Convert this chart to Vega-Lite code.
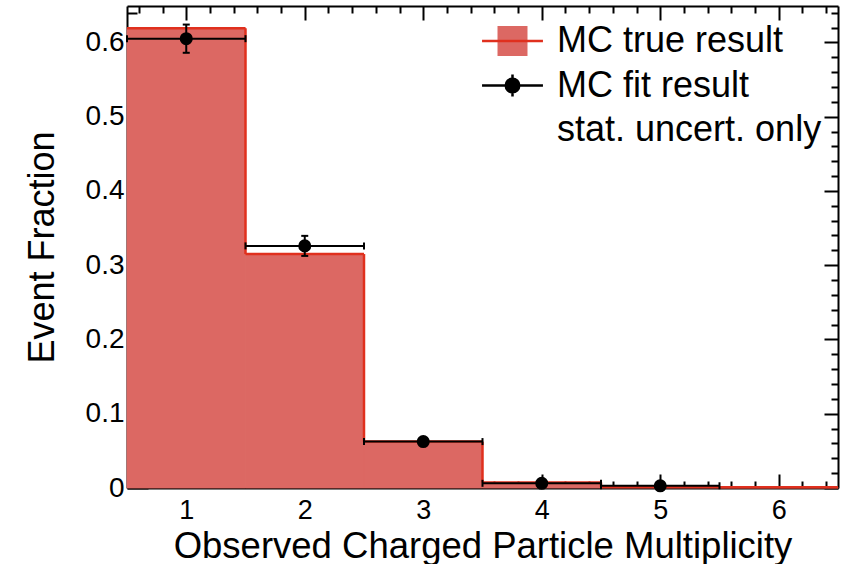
{
  "$schema": "https://vega.github.io/schema/vega-lite/v6.json",
  "width": 711,
  "height": 482,
  "autosize": {"type": "none"},
  "padding": {"left": 127, "top": 6, "right": 7, "bottom": 76},
  "background": "white",
  "config": {
    "view": {"stroke": null},
    "font": "Liberation Sans",
    "legend": {"labelFont": "Liberation Sans"},
    "axis": {"grid": false, "zindex": 1, "tickColor": "black", "tickWidth": 2, "domainColor": "black", "domainWidth": 2, "labelFlush": false, "labelOverlap": false, "labelBound": false}
  },
  "data": {
    "values": [
      {"n": 1, "lo": 0.5, "hi": 1.5, "mc": 0.619, "fit": 0.605, "fitlo": 0.586, "fithi": 0.624},
      {"n": 2, "lo": 1.5, "hi": 2.5, "mc": 0.315, "fit": 0.326, "fitlo": 0.3125, "fithi": 0.3395},
      {"n": 3, "lo": 2.5, "hi": 3.5, "mc": 0.0625, "fit": 0.0625, "fitlo": 0.0595, "fithi": 0.0655},
      {"n": 4, "lo": 3.5, "hi": 4.5, "mc": 0.0075, "fit": 0.0063, "fitlo": 0.0043, "fithi": 0.0083},
      {"n": 5, "lo": 4.5, "hi": 5.5, "mc": 0.0015, "fit": 0.003, "fitlo": 0.001, "fithi": 0.005},
      {"n": 6, "lo": 5.5, "hi": 6.5, "mc": 0.001, "fit": null, "fitlo": null, "fithi": null}
    ]
  },
  "resolve": {"axis": {"x": "independent", "y": "independent"}},
  "layer": [
    {
      "mark": {"type": "rect", "stroke": "#dc6863", "strokeWidth": 0.8},
      "encoding": {
        "x": {
          "field": "lo", "type": "quantitative",
          "scale": {"domain": [0.5, 6.5], "nice": false, "zero": false},
          "axis": {
            "orient": "bottom",
            "values": [1, 2, 3, 4, 5, 6],
            "domain": true, "ticks": true, "tickSize": -14,
            "labelExpr": "format(datum.value,'d')",
            "labelFont": "Liberation Sans", "labelFontSize": 27, "labelColor": "black", "labelPadding": 23,
            "title": "Observed Charged Particle Multiplicity",
            "titleFont": "Liberation Sans", "titleFontSize": 36.5, "titleFontWeight": "normal", "titleColor": "black", "titlePadding": 5
          }
        },
        "x2": {"field": "hi"},
        "y": {
          "field": "mc", "type": "quantitative",
          "scale": {"domain": [0, 0.649], "nice": false, "zero": false},
          "axis": {
            "orient": "left",
            "values": [0, 0.1, 0.2, 0.3, 0.4, 0.5, 0.6],
            "domain": true, "ticks": true, "tickSize": -21,
            "labelExpr": "datum.value == 0 ? '0' : format(datum.value,'.1f')",
            "labelFont": "Liberation Sans", "labelFontSize": 28, "labelColor": "black", "labelPadding": 24,
            "title": "Event Fraction",
            "titleFont": "Liberation Sans", "titleFontSize": 36, "titleFontWeight": "normal", "titleColor": "black", "titlePadding": 24
          }
        },
        "y2": {"datum": 0},
        "fill": {
          "datum": "MC true result",
          "scale": {"domain": ["MC true result", "MC fit result", "stat. uncert. only"], "range": ["#dc6863", "transparent", "transparent"]},
          "legend": {
            "orient": "none", "legendX": 367.5, "legendY": 17, "title": null, "padding": 0,
            "rowPadding": 8.5, "symbolSize": 900, "symbolStrokeWidth": 0,
            "labelFont": "Liberation Sans", "labelFontSize": 36, "labelColor": "black", "labelOffset": 26.5, "labelLimit": 500,
            "encode": {"symbols": {"update": {
              "shape": {"signal": "datum.value === 'MC true result' ? 'M-2.03,-1.05H2.03V1.05H-2.03Z' : 'M0,0'"},
              "stroke": {"value": "transparent"}
            }}}
          }
        }
      }
    },
    {
      "mark": {"type": "rule", "strokeWidth": 2.5},
      "encoding": {
        "x": {
          "field": "lo", "type": "quantitative", "scale": {"domain": [0.5, 6.5], "nice": false, "zero": false},
          "axis": {
            "orient": "bottom",
            "values": [0.6, 0.8, 1.2, 1.4, 1.6, 1.8, 2.2, 2.4, 2.6, 2.8, 3.2, 3.4, 3.6, 3.8, 4.2, 4.4, 4.6, 4.8, 5.2, 5.4, 5.6, 5.8, 6.2, 6.4],
            "domain": false, "ticks": true, "tickSize": -7, "labels": false, "title": null
          }
        },
        "x2": {"field": "hi"},
        "y": {
          "field": "mc", "type": "quantitative", "scale": {"domain": [0, 0.649], "nice": false, "zero": false},
          "axis": {
            "orient": "left",
            "values": [0.02, 0.04, 0.06, 0.08, 0.12, 0.14, 0.16, 0.18, 0.22, 0.24, 0.26, 0.28, 0.32, 0.34, 0.36, 0.38, 0.42, 0.44, 0.46, 0.48, 0.52, 0.54, 0.56, 0.58, 0.62, 0.64],
            "domain": false, "ticks": true, "tickSize": -10, "labels": false, "title": null
          }
        },
        "stroke": {
          "datum": "t",
          "scale": {"domain": ["t", "f", "s"], "range": ["#e0301e", "black", "transparent"]},
          "legend": {
            "orient": "none", "legendX": 367.5, "legendY": 17, "title": null, "padding": 0,
            "rowPadding": 8.5, "symbolSize": 900, "symbolStrokeWidth": 2.5,
            "labelFont": "Liberation Sans", "labelFontSize": 36, "labelColor": "transparent", "labelOffset": 26.5, "labelLimit": 500,
            "labelExpr": "''",
            "encode": {"symbols": {"update": {
              "shape": {"signal": "datum.value === 't' ? 'M-2.03,0H2.03' : (datum.value === 'f' ? 'M-2.03,0H2.03M0,-0.73V0.73M0.45,0A0.45,0.45 0 1,1 -0.45,0A0.45,0.45 0 1,1 0.45,0Z' : 'M0,0')"},
              "fill": {"signal": "datum.value === 'f' ? 'black' : 'transparent'"}
            }}}
          }
        }
      }
    },
    {
      "transform": [
        {"window": [{"op": "lead", "field": "mc", "as": "next"}], "sort": [{"field": "n"}]},
        {"filter": "datum.next != null"}
      ],
      "mark": {"type": "rule", "strokeWidth": 2.5},
      "encoding": {
        "x": {
          "field": "hi", "type": "quantitative", "scale": {"domain": [0.5, 6.5], "nice": false, "zero": false},
          "axis": {
            "orient": "top",
            "values": [1, 2, 3, 4, 5, 6],
            "domain": true, "ticks": true, "tickSize": -14, "labels": false, "title": null
          }
        },
        "y": {
          "field": "mc", "type": "quantitative", "scale": {"domain": [0, 0.649], "nice": false, "zero": false},
          "axis": {
            "orient": "right",
            "values": [0, 0.1, 0.2, 0.3, 0.4, 0.5, 0.6],
            "domain": true, "ticks": true, "tickSize": -14, "labels": false, "title": null
          }
        },
        "y2": {"field": "next"},
        "stroke": {"datum": "t", "scale": {"domain": ["t", "f", "s"], "range": ["#e0301e", "black", "transparent"]}}
      }
    },
    {
      "transform": [{"filter": "datum.fit != null"}],
      "mark": {"type": "rule", "strokeWidth": 2},
      "encoding": {
        "x": {
          "field": "lo", "type": "quantitative", "scale": {"domain": [0.5, 6.5], "nice": false, "zero": false},
          "axis": {
            "orient": "top",
            "values": [0.6, 0.8, 1.2, 1.4, 1.6, 1.8, 2.2, 2.4, 2.6, 2.8, 3.2, 3.4, 3.6, 3.8, 4.2, 4.4, 4.6, 4.8, 5.2, 5.4, 5.6, 5.8, 6.2, 6.4],
            "domain": false, "ticks": true, "tickSize": -7, "labels": false, "title": null
          }
        },
        "x2": {"field": "hi"},
        "y": {
          "field": "fit", "type": "quantitative", "scale": {"domain": [0, 0.649], "nice": false, "zero": false},
          "axis": {
            "orient": "right",
            "values": [0.02, 0.04, 0.06, 0.08, 0.12, 0.14, 0.16, 0.18, 0.22, 0.24, 0.26, 0.28, 0.32, 0.34, 0.36, 0.38, 0.42, 0.44, 0.46, 0.48, 0.52, 0.54, 0.56, 0.58, 0.62, 0.64],
            "domain": false, "ticks": true, "tickSize": -7, "labels": false, "title": null
          }
        },
        "stroke": {"datum": "f", "scale": {"domain": ["t", "f", "s"], "range": ["#e0301e", "black", "transparent"]}}
      }
    },
    {
      "transform": [{"filter": "datum.fit != null"}],
      "mark": {"type": "rule", "strokeWidth": 2},
      "encoding": {
        "x": {"field": "n", "type": "quantitative", "scale": {"domain": [0.5, 6.5], "nice": false, "zero": false}, "axis": null},
        "y": {"field": "fitlo", "type": "quantitative", "scale": {"domain": [0, 0.649], "nice": false, "zero": false}, "axis": null},
        "y2": {"field": "fithi"},
        "stroke": {"datum": "f", "scale": {"domain": ["t", "f", "s"], "range": ["#e0301e", "black", "transparent"]}}
      }
    },
    {
      "transform": [{"filter": "datum.fit != null"}, {"fold": ["lo", "hi"], "as": ["k", "v"]}],
      "mark": {"type": "tick", "orient": "vertical", "size": 7, "thickness": 2, "color": "black", "opacity": 1},
      "encoding": {
        "x": {"field": "v", "type": "quantitative", "scale": {"domain": [0.5, 6.5], "nice": false, "zero": false}, "axis": null},
        "y": {"field": "fit", "type": "quantitative", "scale": {"domain": [0, 0.649], "nice": false, "zero": false}, "axis": null}
      }
    },
    {
      "transform": [{"filter": "datum.fit != null"}, {"fold": ["fitlo", "fithi"], "as": ["k", "v"]}],
      "mark": {"type": "tick", "orient": "horizontal", "size": 7, "thickness": 2, "color": "black", "opacity": 1},
      "encoding": {
        "x": {"field": "n", "type": "quantitative", "scale": {"domain": [0.5, 6.5], "nice": false, "zero": false}, "axis": null},
        "y": {"field": "v", "type": "quantitative", "scale": {"domain": [0, 0.649], "nice": false, "zero": false}, "axis": null}
      }
    },
    {
      "transform": [{"filter": "datum.fit != null"}],
      "mark": {"type": "circle", "size": 170, "color": "black", "opacity": 1},
      "encoding": {
        "x": {"field": "n", "type": "quantitative", "scale": {"domain": [0.5, 6.5], "nice": false, "zero": false}, "axis": null},
        "y": {"field": "fit", "type": "quantitative", "scale": {"domain": [0, 0.649], "nice": false, "zero": false}, "axis": null}
      }
    }
  ]
}
